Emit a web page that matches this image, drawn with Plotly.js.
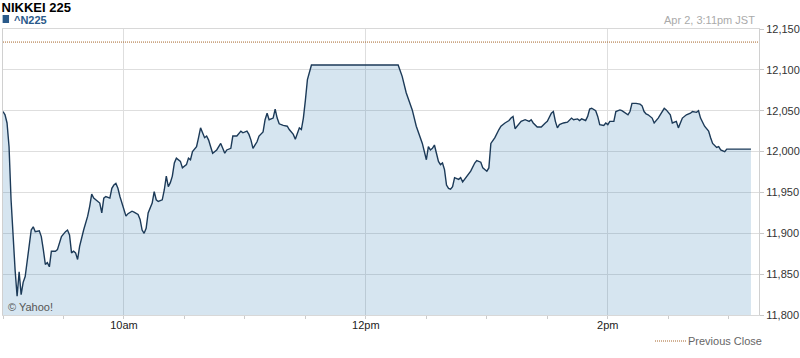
<!DOCTYPE html>
<html>
<head>
<meta charset="utf-8">
<script src="https://cdn.plot.ly/plotly-3.0.1.min.js"></script>
<style>
html,body{margin:0;padding:0;background:#fff;}
#chart{width:800px;height:358px;}
</style>
</head>
<body>
<div id="chart"></div>
<script>
const tradeDate = '2013-04-02';
const times = ['09:00','09:01','09:02','09:03','09:04','09:05','09:06','09:07','09:08','09:09','09:10','09:11','09:12','09:13','09:14','09:15','09:16','09:18','09:19','09:20','09:21','09:22','09:23','09:24','09:26','09:27','09:29','09:31','09:32','09:33','09:34','09:35','09:36','09:37','09:38','09:40','09:42','09:43','09:44','09:45','09:46','09:47','09:48','09:49','09:50','09:51','09:53','09:54','09:55','09:56','09:57','09:58','09:59','10:01','10:02','10:04','10:05','10:07','10:08','10:09','10:10','10:11','10:12','10:14','10:15','10:16','10:17','10:19','10:20','10:21','10:22','10:23','10:24','10:25','10:26','10:28','10:29','10:31','10:32','10:33','10:34','10:36','10:37','10:38','10:39','10:40','10:41','10:42','10:43','10:44','10:46','10:47','10:48','10:49','10:50','10:51','10:53','10:54','10:56','10:58','10:59','11:01','11:02','11:03','11:04','11:06','11:07','11:09','11:10','11:11','11:12','11:14','11:15','11:16','11:17','11:19','11:21','11:22','11:24','11:25','11:26','11:27','11:28','11:29','11:30','11:31','11:33','12:16','12:18','12:20','12:23','12:25','12:28','12:30','12:31','12:32','12:33','12:34','12:35','12:36','12:37','12:38','12:39','12:40','12:41','12:42','12:43','12:44','12:46','12:47','12:48','12:50','12:52','12:54','12:55','12:57','12:58','13:00','13:01','13:02','13:03','13:04','13:06','13:07','13:09','13:11','13:12','13:13','13:14','13:16','13:17','13:19','13:21','13:22','13:23','13:25','13:27','13:29','13:30','13:32','13:33','13:34','13:35','13:36','13:38','13:40','13:41','13:42','13:43','13:45','13:46','13:47','13:49','13:50','13:51','13:52','13:54','13:55','13:56','13:58','13:59','14:00','14:01','14:03','14:04','14:06','14:07','14:09','14:10','14:11','14:12','14:14','14:16','14:17','14:18','14:19','14:20','14:22','14:23','14:25','14:27','14:28','14:29','14:31','14:32','14:34','14:35','14:36','14:37','14:39','14:41','14:42','14:44','14:45','14:46','14:48','14:50','14:51','14:52','14:54','14:55','14:56','14:58','14:59','15:11'];
const prices = [12049,12045,12035,12006,11941,11892,11855,11823,11853,11825,11840,11847,11868,11884,11904,11908,11902,11903,11896,11880,11862,11864,11859,11878,11878,11880,11896,11902,11904,11898,11876,11878,11876,11868,11884,11904,11921,11933,11948,11943,11941,11939,11937,11925,11943,11945,11943,11955,11959,11961,11955,11945,11937,11921,11924,11927,11926,11923,11917,11904,11900,11906,11925,11937,11951,11941,11939,11941,11953,11970,11957,11962,11970,11986,11992,11988,11980,11984,11992,11990,12000,12006,12017,12029,12023,12017,12019,12014,12006,11998,12002,12006,12010,12004,11998,12002,12004,12019,12019,12025,12023,12025,12021,12014,12004,12012,12019,12024,12039,12047,12039,12041,12052,12041,12034,12032,12031,12027,12021,12015,12023,12029,12027,12041,12063,12088,12106,12106,12092,12072,12051,12031,12010,11990,12006,12002,12004,12008,11998,11988,11984,11986,11978,11959,11955,11954,11957,11968,11966,11968,11963,11970,11976,11986,11989,11987,11980,11976,11980,12010,12014,12017,12027,12031,12035,12038,12041,12043,12028,12035,12037,12039,12037,12039,12035,12030,12030,12035,12037,12047,12049,12037,12029,12033,12035,12036,12038,12041,12039,12040,12038,12040,12038,12043,12052,12053,12050,12043,12033,12032,12035,12033,12037,12037,12049,12051,12050,12046,12045,12049,12059,12059,12058,12056,12049,12046,12045,12041,12035,12041,12049,12053,12051,12045,12035,12037,12029,12035,12041,12045,12047,12049,12048,12050,12041,12031,12025,12017,12010,12005,12006,12002,12000,12003,12003];
const previousClose = 12134;
const xTickTimes = ['10:00','12:00','14:00'];
const xTickText = ['10am','12pm','2pm'];
const yTicks = [11800,11850,11900,11950,12000,12050,12100,12150];

const font = 'Arial, "Liberation Sans", sans-serif';
const xs = times.map(t => tradeDate + ' ' + t);

const trace = {
  type: 'scatter', mode: 'lines', x: xs, y: prices,
  line: {color: '#1c3a58', width: 1.4},
  fill: 'tozeroy', fillcolor: 'rgba(50,125,180,0.2)',
  hoverinfo: 'skip', showlegend: false
};

const layout = {
  width: 800, height: 358,
  margin: {l: 3, r: 41, t: 29, b: 43},
  paper_bgcolor: '#fff', plot_bgcolor: '#fff',
  font: {family: font, size: 11, color: '#333'},
  showlegend: false,
  title: {text: '<b>NIKKEI 225</b>', x: 0.002, xanchor: 'left', xref: 'container',
          y: 1 - 7/358, yanchor: 'middle', yref: 'container',
          font: {family: font, size: 13, color: '#000'}},
  xaxis: {
    type: 'date',
    range: [tradeDate + ' 09:00', tradeDate + ' 15:15'],
    tickmode: 'array', tickvals: xTickTimes.map(t => tradeDate + ' ' + t), ticktext: xTickText,
    showgrid: true, gridcolor: '#dedede', gridwidth: 1,
    showline: true, linecolor: '#d8d8d8', linewidth: 1, mirror: true,
    ticks: '', tickfont: {family: font, size: 11, color: '#222'},
    minor: {tickmode: 'linear', tick0: tradeDate + ' 09:30', dtick: 1800000, ticks: 'outside', ticklen: 3, tickcolor: '#ccc', showgrid: false},
    zeroline: false, fixedrange: true
  },
  yaxis: {
    side: 'right', range: [11800, 12150],
    tickmode: 'array', tickvals: yTicks, tickformat: ',d',
    showgrid: true, gridcolor: '#dedede', gridwidth: 1,
    showline: true, linecolor: '#d0d0d0', linewidth: 1, mirror: true,
    ticks: 'outside', ticklen: 4, tickcolor: '#c8c8c8',
    tickfont: {family: font, size: 11, color: '#333'},
    zeroline: false, fixedrange: true
  },
  shapes: [
    {type: 'line', xref: 'paper', yref: 'y', x0: 0, x1: 1, y0: previousClose, y1: previousClose,
     line: {color: '#a5652a', width: 1, dash: '1px,1px'}},
    {type: 'rect', xref: 'paper', yref: 'paper', x0: -0.0005, x1: 0.008, y0: (315-23)/286, y1: (315-15)/286,
     fillcolor: '#2a5a8a', line: {width: 0}},
    {type: 'line', xref: 'paper', yref: 'paper', x0: (655-3)/756, x1: (687-3)/756, y0: (315-341)/286, y1: (315-341)/286,
     line: {color: '#a5652a', width: 1, dash: '1px,1px'}}
  ],
  annotations: [
    {text: '<b>^N225</b>', xref: 'paper', yref: 'paper', x: (12-3)/756, y: (315-19.5)/286,
     xanchor: 'left', yanchor: 'middle', showarrow: false, font: {family: font, size: 11, color: '#2a5a8a'}},
    {text: 'Apr 2, 3:11pm JST', xref: 'paper', yref: 'paper', x: (757-3)/756, y: (315-19.5)/286,
     xanchor: 'right', yanchor: 'middle', showarrow: false, font: {family: font, size: 11, color: '#aaaaaa'}},
    {text: '© Yahoo!', xref: 'paper', yref: 'paper', x: (6-3)/756, y: (315-307)/286,
     xanchor: 'left', yanchor: 'middle', showarrow: false, font: {family: font, size: 11, color: '#555'}},
    {text: 'Previous Close', xref: 'paper', yref: 'paper', x: (686-3)/756, y: (315-341)/286,
     xanchor: 'left', yanchor: 'middle', showarrow: false, font: {family: font, size: 11, color: '#666'}}
  ]
};

Plotly.newPlot('chart', [trace], layout, {staticPlot: true, displayModeBar: false});
</script>
</body>
</html>
